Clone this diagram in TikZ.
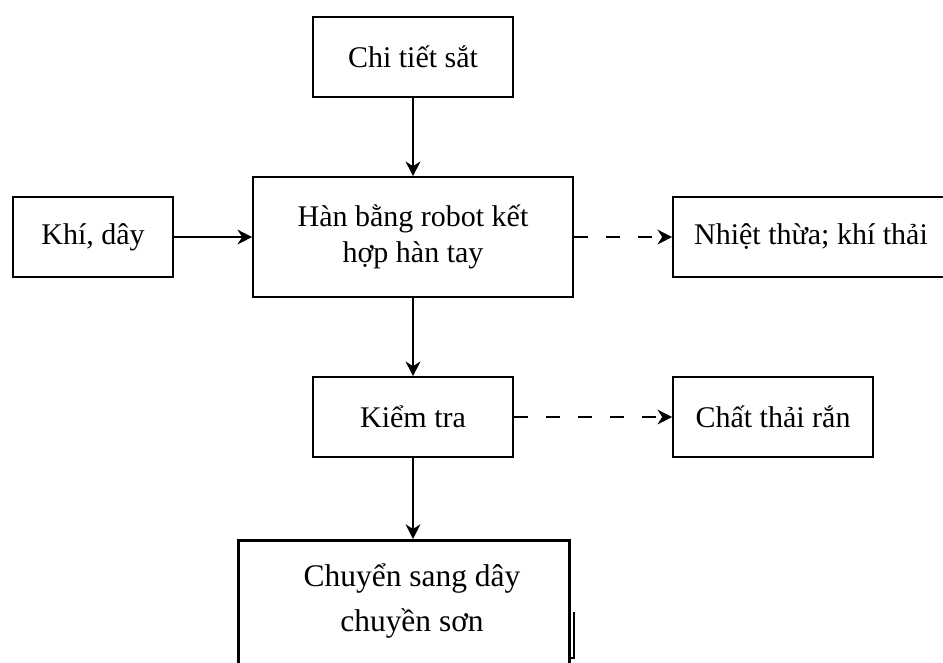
\documentclass[tikz,border=0pt]{standalone}
\usepackage{fontspec}
\setmainfont{Liberation Serif}
\usetikzlibrary{arrows.meta}

\begin{document}
\begin{tikzpicture}[x=0.75pt,y=-0.75pt,>={Stealth[length=11pt,width=11pt,inset=3.5pt]},
  box/.style={draw,line width=1.2pt,minimum width=150pt,minimum height=60pt,inner sep=0pt,align=center,font=\fontsize{22.5}{26.5}\selectfont},
  flow/.style={->,line width=1.2pt},
  waste/.style={->,line width=1.2pt,dash pattern=on 11pt off 13pt}]
  \useasboundingbox (0,0) rectangle (943,662);
  \node[box] (sat) at (413,57) {Chi tiết sắt};
  \node[box,minimum width=240pt,minimum height=90pt] (han) at (413,237) {Hàn bằng robot kết\\hợp hàn tay};
  \node[box,minimum width=120pt] (khi) at (93,237) {Khí, dây};
  \node[box,minimum width=207pt] (nhiet) at (811,237) {Nhiệt thừa; khí thải};
  \node[box] (kiem) at (413,417) {Kiểm tra};
  \node[box] (chat) at (773,417) {Chất thải rắn};
  % last step: box runs off the bottom edge
  \node[draw,line width=2.2pt,anchor=north west,minimum width=248pt,minimum height=136pt,inner sep=0pt] (chuyenbox) at (237,539) {};
  \node[align=center,inner sep=0pt,font=\fontsize{23.6}{33.75}\selectfont] (chuyen) at (412,601) {Chuyển sang dây\\chuyền sơn};
  \draw[line width=1pt] (574,612) -- (574,658) -- (568,658);
  \draw[flow] (sat) -- (han);
  \draw[flow] (khi) -- (han);
  \draw[waste] (han) -- (nhiet);
  \draw[flow] (han) -- (kiem);
  \draw[waste] (kiem) -- (chat);
  \draw[flow] (kiem.south) -- (kiem.south |- chuyenbox.north);
\end{tikzpicture}
\end{document}
